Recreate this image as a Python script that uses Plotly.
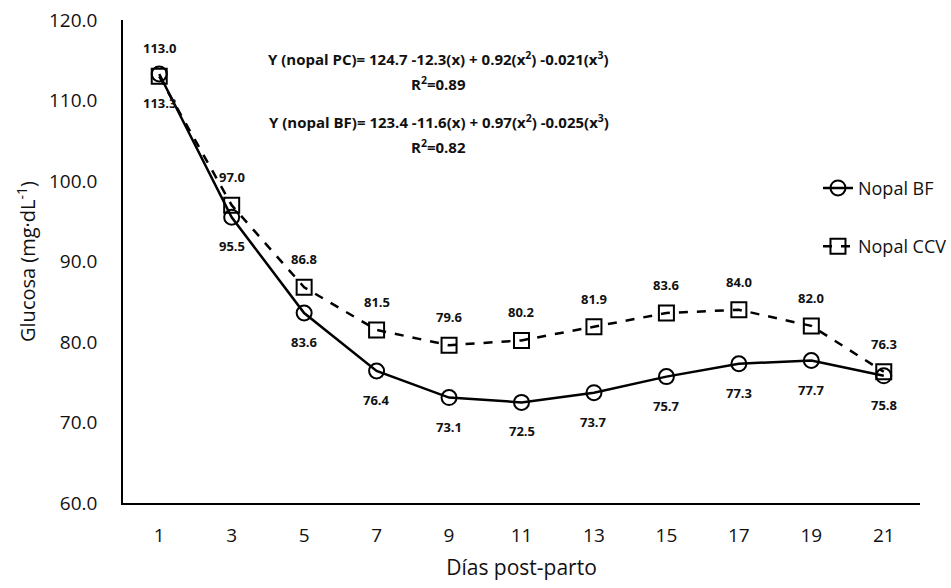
import plotly.graph_objects as go

dias = [1, 3, 5, 7, 9, 11, 13, 15, 17, 19, 21]
nopal_bf = [113.3, 95.5, 83.6, 76.4, 73.1, 72.5, 73.7, 75.7, 77.3, 77.7, 75.8]
nopal_ccv = [113.0, 97.0, 86.8, 81.5, 79.6, 80.2, 81.9, 83.6, 84.0, 82.0, 76.3]
y_ticks = [60, 70, 80, 90, 100, 110, 120]

equations = [
    "Y (nopal PC)= 124.7 -12.3(x) + 0.92(x<sup>2</sup>) -0.021(x<sup>3</sup>)",
    "R<sup>2</sup>=0.89",
    "Y (nopal BF)= 123.4 -11.6(x) + 0.97(x<sup>2</sup>) -0.025(x<sup>3</sup>)",
    "R<sup>2</sup>=0.82",
]
eq_y = [0.946, 0.894, 0.816, 0.764]

FONT = "Open Sans"
TXT = "#111111"

fig = go.Figure()
fig.add_trace(go.Scatter(
    x=dias, y=nopal_bf, name="Nopal BF", mode="lines+markers",
    line=dict(color="black", width=2.5),
    marker=dict(symbol="circle-open", size=15, color="black", line=dict(width=2)),
    legendgroup="a",
))
fig.add_trace(go.Scatter(
    x=dias, y=nopal_ccv, name="Nopal CCV", mode="lines+markers",
    line=dict(color="black", width=2.5, dash="dash"),
    marker=dict(symbol="square-open", size=15, color="black", line=dict(width=2)),
    legendgroup="b",
))

annotations = []
for x, v in zip(dias, nopal_ccv):
    annotations.append(dict(x=x, y=v, text=f"<b>{v:.1f}</b>", showarrow=False,
                            yshift=28, font=dict(family=FONT, size=13, color=TXT)))
for x, v in zip(dias, nopal_bf):
    annotations.append(dict(x=x, y=v, text=f"<b>{v:.1f}</b>", showarrow=False,
                            yshift=-29, font=dict(family=FONT, size=13, color=TXT)))
for t, yy in zip(equations, eq_y):
    annotations.append(dict(x=0.396, y=yy, xref="paper", yref="paper", text=f"<b>{t}</b>",
                            showarrow=False, font=dict(family=FONT, size=15, color=TXT)))

fig.update_layout(
    width=951, height=588,
    margin=dict(l=123, r=31, t=20, b=85, autoexpand=False),
    plot_bgcolor="white", paper_bgcolor="white",
    font=dict(family=FONT, size=18, color=TXT),
    showlegend=True,
    legend=dict(x=0.872, y=0.69, xanchor="left", yanchor="top",
                font=dict(family=FONT, size=18, color=TXT),
                tracegroupgap=32, bgcolor="rgba(0,0,0,0)"),
    annotations=annotations,
)
fig.update_xaxes(
    range=[0, 22], tickvals=dias, ticktext=[str(d) for d in dias],
    showline=True, linecolor="black", linewidth=1.5, showgrid=False, zeroline=False,
    ticks="", ticklabelstandoff=14,
    title=dict(text="Días post-parto", font=dict(family=FONT, size=21, color=TXT), standoff=14),
    tickfont=dict(family=FONT, size=19, color=TXT),
)
fig.update_yaxes(
    range=[60, 120], tickvals=y_ticks, ticktext=[f"{v:.1f}" for v in y_ticks],
    showline=True, linecolor="black", linewidth=1.5, showgrid=False, zeroline=False,
    ticks="", ticklabelstandoff=20,
    title=dict(text="Glucosa (mg·dL<sup>-1</sup>)", font=dict(family=FONT, size=20, color=TXT), standoff=8),
    tickfont=dict(family=FONT, size=19, color=TXT),
)

fig.write_html("out.html")
